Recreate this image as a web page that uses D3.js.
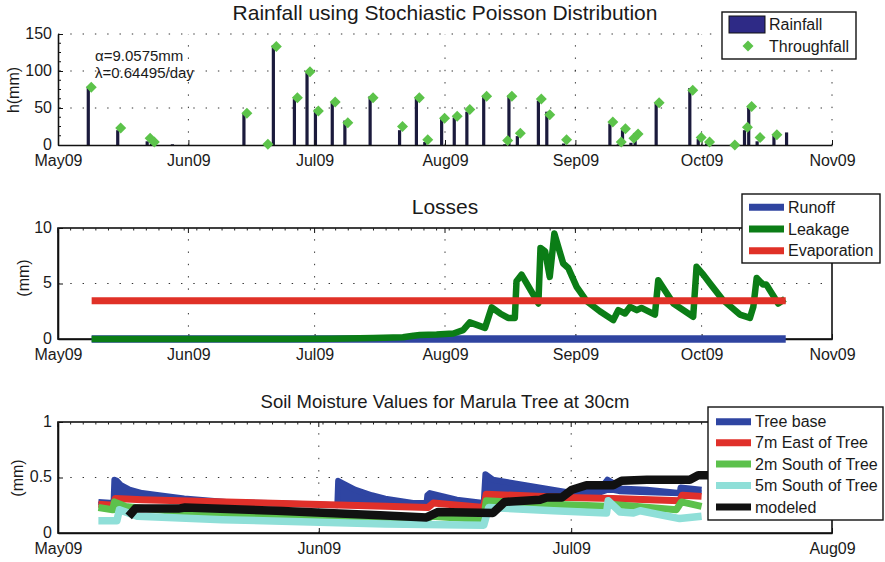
<!DOCTYPE html>
<html>
<head>
<meta charset="utf-8">
<script src="https://cdn.jsdelivr.net/npm/d3@7"></script>
<style>
  body { margin: 0; background: #fff; }
  svg text { font-family: "Liberation Sans", Arial, Helvetica, sans-serif; fill: #1a1a1a; }
</style>
</head>
<body>
<svg id="chart" width="885" height="562"></svg>
<script>
// ---- data (days counted from 1 May 2009) ----
const rainDays    = [7, 14, 21, 22, 27, 44, 49, 51, 56, 59, 61, 65, 68, 74, 81, 85, 87, 91, 94, 97, 101, 106, 107, 109, 114, 116, 120, 131, 133, 134, 136, 137, 142, 150, 152, 154, 160, 163, 164, 166, 170, 173];
const rainfall    = [79, 20, 5, 2, 1, 43, 0.5, 135, 62, 98, 48, 58, 33, 66, 20, 65, 4, 37, 37, 45, 67, 1, 67, 12, 60, 45, 2, 29, 1, 20, 3, 10, 57, 77, 8, 2, 1, 20, 50, 5, 13, 17];
const throughfall = [78, 23, 9, 4, null, 43, 1, 133, 64, 99, 46, 58, 30, 64, 25, 64, 7, 36, 39, 48, 66, 6, 66, 16, 62, 41, 7, 31, 4, 22, 9, 15, 57, 74, 10, 4, 0, 24, 52, 10, 14, null];

const lossStart = 8, lossEnd = 173;
const runoffValue = 0;
const evaporationValue = 3.45;
const leakDays = [8, 55, 65, 75, 82, 84.5, 86, 90, 94, 96.3, 97.9, 101.5, 103.1, 105.1, 107, 108.6, 109, 110.2, 114.2, 114.7, 115.8, 116.9, 118, 120.1, 121.3, 123.3, 125.7, 128.8, 132, 133.2, 134.8, 136, 137.6, 138.7, 141.9, 142.7, 146.3, 151, 151.8, 153.4, 155, 158.1, 162.1, 164.5, 165.3, 166.1, 167.6, 168.4, 171.2, 172.8];
const leakVals = [0, 0, 0.03, 0.1, 0.15, 0.3, 0.36, 0.4, 0.5, 0.8, 1.5, 1.0, 2.85, 2.3, 1.9, 1.9, 5.2, 5.8, 3.2, 8.2, 7.9, 5.6, 9.5, 6.8, 6.4, 4.7, 3.4, 2.5, 1.7, 2.6, 2.3, 2.9, 2.6, 2.8, 2.2, 5.3, 3.2, 2.0, 6.5, 5.8, 5.0, 3.5, 2.2, 1.9, 2.9, 5.5, 4.9, 4.9, 3.2, 3.6];

// tree base: upper envelope and lower envelope of the noisy record
const treeBaseDays = [4.8, 6.6, 6.7, 7.0, 7.5, 8.5, 10, 12, 15, 20, 25, 30, 33.2, 33.3, 33.8, 35.3, 37.3, 38.9, 42.2, 43.8, 43.9, 44.2, 47.4, 50.6, 50.8, 51.7, 60.4, 64.2, 65.3, 66, 66.8, 70, 73.9, 74, 76.5];
const treeBaseVals = [0.28, 0.27, 0.48, 0.47, 0.43, 0.39, 0.36, 0.34, 0.31, 0.28, 0.27, 0.26, 0.25, 0.47, 0.45, 0.39, 0.34, 0.31, 0.27, 0.27, 0.34, 0.36, 0.30, 0.27, 0.53, 0.48, 0.37, 0.37, 0.48, 0.45, 0.40, 0.39, 0.36, 0.41, 0.39];
const treeBaseLow  = [0.27, 0.26, 0.30, 0.30, 0.30, 0.30, 0.29, 0.29, 0.28, 0.27, 0.26, 0.25, 0.25, 0.26, 0.26, 0.26, 0.25, 0.25, 0.24, 0.24, 0.27, 0.28, 0.27, 0.25, 0.36, 0.36, 0.33, 0.33, 0.36, 0.36, 0.35, 0.34, 0.33, 0.36, 0.35];
const eastDays = [4.8, 6.6, 6.8, 10, 20, 30, 38.9, 44, 44.6, 50.6, 50.9, 60.4, 66, 73.9, 74.2, 76.5];
const eastVals = [0.26, 0.25, 0.31, 0.30, 0.28, 0.26, 0.24, 0.23, 0.27, 0.23, 0.35, 0.32, 0.31, 0.29, 0.34, 0.33];
const south2Days = [4.8, 6.5, 6.7, 8, 15.5, 25, 38.9, 44, 44.4, 50.6, 50.9, 58.9, 65.2, 65.6, 73.5, 74.1, 76.5];
const south2Vals = [0.23, 0.21, 0.28, 0.24, 0.18, 0.16, 0.13, 0.13, 0.15, 0.12, 0.29, 0.26, 0.24, 0.26, 0.21, 0.28, 0.24];
const south5Days = [4.8, 7.0, 7.3, 9.5, 19.5, 30, 38.9, 50.6, 51.2, 58.9, 65.2, 65.4, 66.8, 68.4, 69.2, 73.9, 76.5];
const south5Vals = [0.11, 0.11, 0.21, 0.15, 0.12, 0.10, 0.08, 0.07, 0.23, 0.20, 0.18, 0.29, 0.19, 0.18, 0.20, 0.13, 0.15];
const modeledDays = [8.4, 9.2, 14.3, 15.1, 26, 38.3, 43.8, 45.2, 51.7, 53.1, 57.3, 58.1, 59.9, 61.1, 62.8, 66, 67, 70, 75.1, 76.1, 78];
const modeledVals = [0.15, 0.22, 0.22, 0.23, 0.20, 0.16, 0.14, 0.19, 0.18, 0.28, 0.30, 0.32, 0.32, 0.39, 0.43, 0.43, 0.47, 0.48, 0.48, 0.52, 0.52];

const topYTicks = [0, 50, 100, 150];
const lossYTicks = [0, 5, 10];
const soilYTicks = [0, 0.5, 1];

const start = new Date(2009, 4, 1);
const dayDate = d => new Date(start.getTime() + d * 864e5);
const fmt = d3.timeFormat('%b%y');

const svg = d3.select('#chart');
const left = 58, right = 832;

const dotted = '1.4,10.9';

function grid(g, x, y, xTicks, yTicks) {
  g.selectAll('.vg').data(xTicks).enter().append('line')
    .attr('x1', d => x(d)).attr('x2', d => x(d))
    .attr('y1', y.range()[0]).attr('y2', y.range()[1])
    .attr('stroke', '#333').attr('stroke-dasharray', dotted);
  g.selectAll('.hg').data(yTicks).enter().append('line')
    .attr('x1', left).attr('x2', right)
    .attr('y1', d => y(d)).attr('y2', d => y(d))
    .attr('stroke', '#333').attr('stroke-dasharray', dotted);
}

function axes(g, x, y, xTicks, yTicks, yFmt, box, minorStep, minorCount) {
  const xa = g.append('g').attr('transform', `translate(0,${y.range()[0]})`)
    .call(d3.axisBottom(x).tickValues(xTicks).tickFormat(fmt).tickSize(-5).tickSizeOuter(0).tickPadding(10));
  const ya = g.append('g').attr('transform', `translate(${left},0)`)
    .call(d3.axisLeft(y).tickValues(yTicks).tickFormat(yFmt).tickSize(-5).tickSizeOuter(0).tickPadding(6));
  [xa, ya].forEach(a => {
    a.select('.domain').attr('stroke', '#111').attr('stroke-width', 1.6);
    a.selectAll('.tick line').attr('stroke', '#111');
    a.selectAll('text').style('font-size', '16px').attr('fill', '#1a1a1a');
  });
  ya.selectAll('text').attr('dy', '0.28em');
  if (box) {
    g.append('rect').attr('x', left).attr('y', y.range()[1])
      .attr('width', right - left).attr('height', y.range()[0] - y.range()[1])
      .attr('fill', 'none').attr('stroke', '#111').attr('stroke-width', 1.6);
    // top ticks + minor ticks
    g.selectAll('.tt').data(xTicks).enter().append('line')
      .attr('x1', d => x(d)).attr('x2', d => x(d))
      .attr('y1', y.range()[1]).attr('y2', y.range()[1] + 5).attr('stroke', '#111');
    const minors = d3.range(0, minorCount).map(i => dayDate(i * minorStep));
    g.selectAll('.mt').data(minors).enter().append('line')
      .attr('x1', d => x(d)).attr('x2', d => x(d))
      .attr('y1', y.range()[1]).attr('y2', y.range()[1] + 2.5).attr('stroke', '#222');
  }
}

function title(text, yPos, size) {
  svg.append('text').attr('x', 445).attr('y', yPos).attr('text-anchor', 'middle')
    .style('font-size', size + 'px').text(text);
}

function ylabel(text, xPos, yPos) {
  svg.append('text').attr('transform', `translate(${xPos},${yPos}) rotate(-90)`)
    .attr('text-anchor', 'middle').style('font-size', '16px').text(text);
}

function drawLine(g, x, y, days, vals, color, width) {
  const line = d3.line().x(d => x(dayDate(d[0]))).y(d => y(d[1]));
  g.append('path').datum(d3.zip(days, vals))
    .attr('d', line).attr('fill', 'none').attr('stroke', color)
    .attr('stroke-width', width).attr('stroke-linejoin', 'round').attr('stroke-linecap', 'butt');
}

function legend(x0, y0, w, h, items, swX, txtX) {
  const g = svg.append('g');
  g.append('rect').attr('x', x0).attr('y', y0).attr('width', w).attr('height', h)
    .attr('fill', '#fff').attr('stroke', '#111').attr('stroke-width', 1.4);
  items.forEach(it => {
    g.append('line').attr('x1', swX).attr('x2', swX + 35).attr('y1', it.y).attr('y2', it.y)
      .attr('stroke', it.color).attr('stroke-width', 7);
    g.append('text').attr('x', txtX).attr('y', it.y + 5.5).style('font-size', '16px').text(it.label);
  });
}

const diamond = s => `M0,${-s}L${s},0L0,${s}L${-s},0Z`;

// ---- panel 1: rainfall ----
{
  const x = d3.scaleTime().domain([start, new Date(2009, 10, 1)]).range([left, right]);
  const y = d3.scaleLinear().domain([0, 150]).range([145, 34]);
  const months = d3.timeMonth.range(start, new Date(2009, 10, 2));
  const g = svg.append('g');
  grid(g, x, y, months.slice(1), [50, 100, 150]);

  g.selectAll('.bar').data(d3.zip(rainDays, rainfall)).enter().append('rect')
    .attr('x', d => x(dayDate(d[0] + 0.2)) - 1.6)
    .attr('width', 3.2)
    .attr('y', d => y(d[1]))
    .attr('height', d => y(0) - y(d[1]))
    .attr('fill', '#1b1a3c');

  axes(g, x, y, months, topYTicks, d3.format('d'), false);
  // y minor ticks
  g.selectAll('.ym').data(d3.range(12.5, 150, 12.5)).enter().append('line')
    .attr('x1', left).attr('x2', left + 3).attr('y1', d => y(d)).attr('y2', d => y(d)).attr('stroke', '#111');

  g.selectAll('.tf').data(d3.zip(rainDays, throughfall).filter(d => d[1] !== null)).enter().append('path')
    .attr('transform', d => `translate(${x(dayDate(d[0] + 0.9))},${y(d[1])})`)
    .attr('d', diamond(5.5)).attr('fill', '#5cc34a');

  g.append('text').attr('x', 95).attr('y', 60.5).style('font-size', '15px').text('α=9.0575mm');
  g.append('text').attr('x', 95).attr('y', 77.5).style('font-size', '15px').text('λ=0.64495/day');

  title('Rainfall using Stochiastic Poisson Distribution', 20, 21);
  ylabel('h(mm)', 19, 90);

  const lg = svg.append('g');
  lg.append('rect').attr('x', 722).attr('y', 12).attr('width', 134).attr('height', 47)
    .attr('fill', '#fff').attr('stroke', '#111').attr('stroke-width', 1.4);
  lg.append('rect').attr('x', 729).attr('y', 16).attr('width', 36).attr('height', 17)
    .attr('fill', '#2e2a86').attr('stroke', '#111').attr('stroke-width', 1);
  lg.append('text').attr('x', 769).attr('y', 30).style('font-size', '16px').text('Rainfall');
  lg.append('path').attr('transform', 'translate(748,46)').attr('d', diamond(5.5)).attr('fill', '#5cc34a');
  lg.append('text').attr('x', 769).attr('y', 52).style('font-size', '16px').text('Throughfall');
}

// ---- panel 2: losses ----
{
  const x = d3.scaleTime().domain([start, new Date(2009, 10, 1)]).range([left, right]);
  const y = d3.scaleLinear().domain([0, 10]).range([339, 228]);
  const months = d3.timeMonth.range(start, new Date(2009, 10, 2));
  const g = svg.append('g');
  grid(g, x, y, months.slice(1, -1), [5]);
  axes(g, x, y, months, lossYTicks, d3.format('d'), true, 3, 62);

  drawLine(g, x, y, [lossStart, lossEnd], [runoffValue, runoffValue], '#2f44a0', 7.5);
  drawLine(g, x, y, leakDays, leakVals, '#0b7d16', 6.5);
  drawLine(g, x, y, [lossStart, lossEnd], [evaporationValue, evaporationValue], '#e03127', 7);

  title('Losses', 214, 21);
  ylabel('(mm)', 29, 278);
  legend(742, 194, 138, 69, [
    { label: 'Runoff', color: '#2f44a0', y: 207.3 },
    { label: 'Leakage', color: '#0b7d16', y: 229 },
    { label: 'Evaporation', color: '#e03127', y: 250.7 }
  ], 749, 788);
}

// ---- panel 3: soil moisture ----
{
  const x = d3.scaleTime().domain([start, new Date(2009, 7, 1)]).range([left, right]);
  const y = d3.scaleLinear().domain([0, 1]).range([533, 422]);
  const months = d3.timeMonth.range(start, new Date(2009, 7, 2));
  const g = svg.append('g');
  grid(g, x, y, months.slice(1, -1), [0.5]);

  const band = d3.area()
    .x(d => x(dayDate(d[0])))
    .y0(d => y(d[2]))
    .y1(d => y(d[1]));
  g.append('path').datum(d3.zip(treeBaseDays, treeBaseVals, treeBaseLow))
    .attr('d', band).attr('fill', '#2f45a2');
  drawLine(g, x, y, treeBaseDays, treeBaseVals, '#2f45a2', 6);
  drawLine(g, x, y, eastDays, eastVals, '#e0302a', 7);
  drawLine(g, x, y, south2Days, south2Vals, '#5cc14c', 7);
  drawLine(g, x, y, south5Days, south5Vals, '#8fdfd8', 7.5);
  drawLine(g, x, y, modeledDays, modeledVals, '#111111', 8.5);

  axes(g, x, y, months, soilYTicks, d3.format('~g'), true, 1.5, 62);

  title('Soil Moisture Values for Marula Tree at 30cm', 408, 18.5);
  ylabel('(mm)', 23, 478);
  legend(708, 407, 175, 113, [
    { label: 'Tree base', color: '#2f45a2', y: 421.7 },
    { label: '7m East of Tree', color: '#e0302a', y: 442.8 },
    { label: '2m South of Tree', color: '#5cc14c', y: 464 },
    { label: '5m South of Tree', color: '#8fdfd8', y: 485.6 },
    { label: 'modeled', color: '#111111', y: 507 }
  ], 716, 755);
}
</script>
</body>
</html>
